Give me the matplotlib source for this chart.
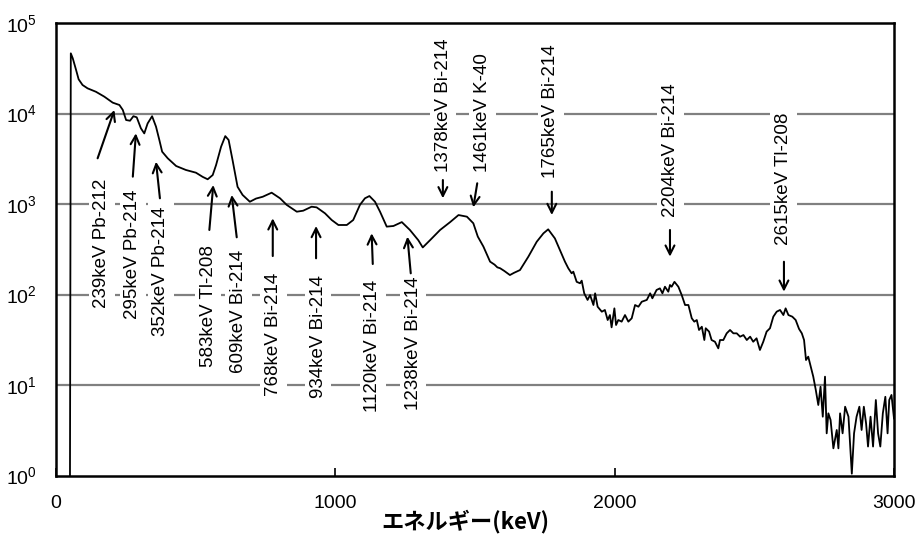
import matplotlib
matplotlib.use("Agg")
import matplotlib.pyplot as plt
import numpy as np

# ---- data (energy in keV, log10 of counts) ----
energy_keV = [50, 53, 60, 72, 81, 95, 113, 143, 173, 203, 227, 239, 251, 265, 277, 289,
              304, 316, 328, 344, 358, 370, 380, 400, 430, 465, 501, 525, 543, 561, 573,
              591, 606, 618, 632, 650, 668, 694, 716, 740, 772, 802, 826, 862, 885, 915,
              933, 963, 987, 1011, 1041, 1064, 1088, 1106, 1122, 1142, 1160, 1184, 1208,
              1238, 1267, 1297, 1313, 1339, 1375, 1411, 1441, 1471, 1494, 1510, 1530,
              1554, 1570, 1580, 1590, 1605, 1625, 1640, 1661, 1691, 1721, 1745, 1762,
              1786, 1804, 1822, 1834, 1846, 1852, 1864, 1876, 1882, 1891, 1903, 1912,
              1924, 1930, 1939, 1954, 1965, 1975, 1983, 1989, 1999, 2005, 2013, 2025,
              2037, 2049, 2061, 2073, 2085, 2097, 2115, 2127, 2135, 2150, 2162, 2171,
              2180, 2192, 2198, 2204, 2214, 2228, 2240, 2252, 2264, 2276, 2285, 2294,
              2302, 2312, 2321, 2326, 2338, 2347, 2359, 2371, 2377, 2389, 2401, 2413,
              2425, 2437, 2449, 2461, 2473, 2485, 2496, 2508, 2520, 2532, 2544, 2556,
              2568, 2580, 2592, 2604, 2612, 2622, 2636, 2648, 2660, 2670, 2678, 2685,
              2693, 2702, 2711, 2720, 2729, 2737, 2745, 2753, 2759, 2765, 2773, 2783,
              2795, 2801, 2807, 2816, 2825, 2837, 2849, 2857, 2866, 2876, 2884, 2892,
              2900, 2907, 2916, 2925, 2935, 2943, 2951, 2960, 2969, 2977, 2983, 2991,
              3000]
log10_counts = [-0.05, 4.665, 4.61, 4.48, 4.378, 4.315, 4.278, 4.24, 4.186, 4.12, 4.094,
                4.04, 3.928, 3.92, 3.97, 3.958, 3.836, 3.78, 3.89, 3.97, 3.855, 3.707,
                3.578, 3.505, 3.42, 3.376, 3.346, 3.30, 3.273, 3.32, 3.43, 3.633, 3.75,
                3.707, 3.486, 3.19, 3.10, 3.025, 3.06, 3.08, 3.125, 3.063, 2.99, 2.915,
                2.926, 2.97, 2.963, 2.897, 2.823, 2.768, 2.768, 2.823, 2.99, 3.063, 3.088,
                3.025, 2.915, 2.75, 2.757, 2.80, 2.713, 2.60, 2.52, 2.60, 2.713, 2.80,
                2.878, 2.86, 2.787, 2.64, 2.53,
                2.363, 2.33, 2.30, 2.29, 2.26, 2.215, 2.24, 2.27, 2.418, 2.583, 2.676,
                2.72,
                2.62, 2.49, 2.363, 2.29, 2.234, 2.252, 2.14, 2.124, 2.153, 2.013, 1.94,
                1.994, 1.884, 2.013, 1.865, 1.81, 1.829, 1.718, 1.773, 1.637, 1.847,
                1.663, 1.718, 1.70, 1.773, 1.70, 1.737, 1.884, 1.865, 1.92, 1.94, 2.013,
                1.958, 2.05, 2.068, 2.013, 2.086, 2.031, 2.105, 2.086, 2.14, 2.086,
                1.994, 1.884, 1.884, 1.737, 1.70, 1.718, 1.608, 1.644, 1.497, 1.627,
                1.59, 1.497, 1.478, 1.405, 1.497, 1.497, 1.571, 1.608, 1.571, 1.571,
                1.534, 1.552, 1.497, 1.534, 1.478, 1.516, 1.387, 1.478, 1.59, 1.627,
                1.755, 1.81, 1.829, 1.773, 1.847, 1.773, 1.755, 1.718, 1.62, 1.571,
                1.497, 1.276, 1.313, 1.202, 1.092, 0.945, 0.779, 0.981, 0.65, 1.092,
                0.466, 0.687, 0.613, 0.30, 0.503, 0.30, 0.687, 0.466, 0.76, 0.65, 0.02,
                0.466, 0.65, 0.76, 0.503, 0.76, 0.577, 0.32, 0.65, 0.32, 0.834, 0.466,
                0.32, 0.687, 0.87, 0.466, 0.834, 0.89, 0.63]

# annotations: label, text x (keV), text anchor (log10), side, arrow tail/head (keV, log10)
peak_labels = ["239keV Pb-212", "295keV Pb-214", "352keV Pb-214", "583keV Tl-208",
               "609keV Bi-214", "768keV Bi-214", "934keV Bi-214", "1120keV Bi-214",
               "1238keV Bi-214", "1378keV Bi-214", "1461keV K-40", "1765keV Bi-214",
               "2204keV Bi-214", "2615keV Tl-208"]
label_x = [164, 275, 375, 545, 653, 778, 939, 1134, 1279, 1386, 1527, 1771, 2200, 2604]
label_anchor = [3.284, 3.155, 2.97, 2.547, 2.492, 2.238, 2.215, 2.16, 2.197,
                3.357, 3.357, 3.284, 2.86, 2.547]
label_side = ["below"] * 9 + ["above"] * 5
arrow_tail_x = [149, 275, 372, 549, 647, 776, 931, 1134, 1270, 1385, 1508, 1775, 2198, 2606]
arrow_tail_y = [3.505, 3.302, 3.063, 2.713, 2.632, 2.425, 2.40, 2.337, 2.234,
                3.265, 3.229, 3.136, 2.713, 2.362]
arrow_head_x = [209, 286, 358, 563, 629, 776, 931, 1130, 1258, 1385, 1494, 1775, 2198, 2606]
arrow_head_y = [4.039, 3.781, 3.467, 3.21, 3.10, 2.842, 2.757, 2.676, 2.639,
                3.063, 2.963, 2.878, 2.418, 2.031]

x_ticks = [0, 1000, 2000, 3000]
y_ticks = [1, 10, 100, 1000, 10000, 100000]
x_label = "エネルギー(keV)"

plt.rcParams['font.family'] = ['Liberation Sans', 'DejaVu Sans']

fig = plt.figure(figsize=(9.22, 5.43), dpi=100)
ax = fig.add_axes([56/922, 1-475.5/543, (894-56)/922, (475.5-23)/543])

counts = 10 ** np.array(log10_counts)
ax.plot(energy_keV, counts, color='black', lw=1.3, zorder=3)

ax.set_yscale('log')
ax.set_xlim(0, 3000)
ax.set_ylim(1, 1e5)

for v in y_ticks[1:-1]:
    ax.axhline(v, color='#808080', lw=1.6, zorder=1)

ax.set_xticks(x_ticks)
ax.set_xticklabels([str(t) for t in x_ticks])
ax.set_yticks(y_ticks)
ax.set_yticklabels([r'$\mathregular{10^{%d}}$' % int(np.log10(v)) for v in y_ticks])
ax.yaxis.set_minor_locator(matplotlib.ticker.NullLocator())
ax.tick_params(axis='x', direction='in', length=6, width=1.2, pad=14, labelsize=14)
ax.tick_params(axis='y', length=0, pad=14, labelsize=14)

for s in ax.spines.values():
    s.set_linewidth(1.8)
    s.set_color('black')

ax.set_xlabel(x_label, family=['Noto Sans CJK JP', 'DejaVu Sans'],
              fontweight='bold', fontsize=16)
ax.xaxis.set_label_coords(0.489, -0.075)

for i, lab in enumerate(peak_labels):
    va = 'top' if label_side[i] == 'below' else 'bottom'
    ax.text(label_x[i], 10 ** label_anchor[i], lab, rotation=90, ha='center', va=va,
            fontsize=13.5, zorder=2,
            bbox=dict(boxstyle='square,pad=0.25', facecolor='white', edgecolor='none'))
    ax.annotate('', xy=(arrow_head_x[i], 10 ** arrow_head_y[i]),
                xytext=(arrow_tail_x[i], 10 ** arrow_tail_y[i]),
                arrowprops=dict(arrowstyle='->', lw=1.5, color='black',
                                mutation_scale=16, shrinkA=0, shrinkB=0), zorder=4)

fig.savefig('out.png', dpi=100)
